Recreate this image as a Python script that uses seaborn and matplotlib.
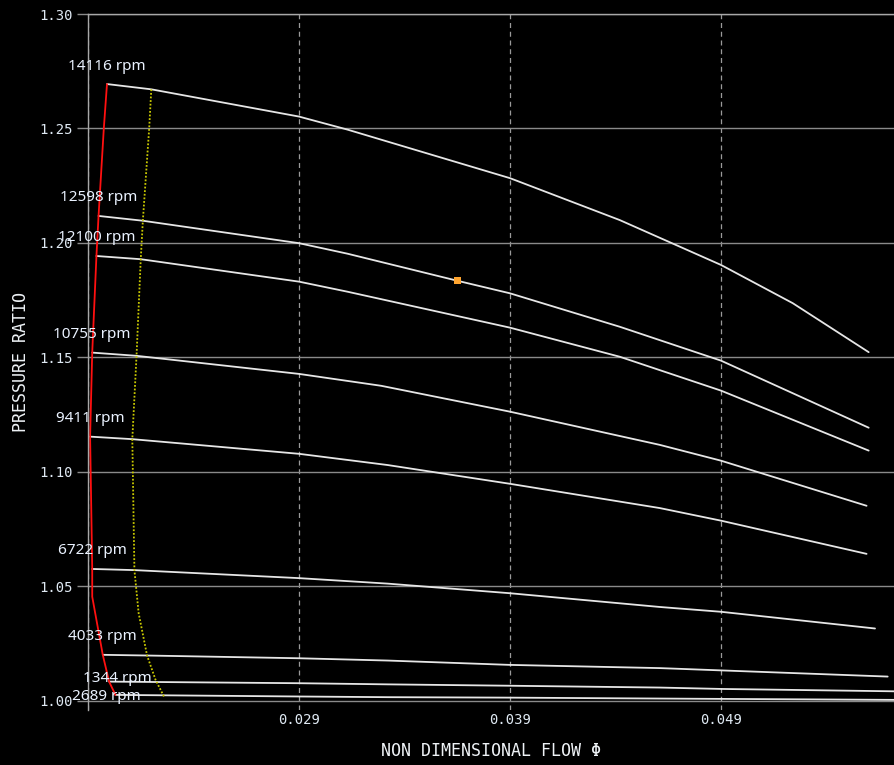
import matplotlib
matplotlib.use('Agg')
import pandas as pd
import matplotlib.pyplot as plt
import seaborn as sns

# speed lines as labelled on the map, top to bottom
speeds = [14116, 12598, 12100, 10755, 9411, 6722, 4033, 1344, 2689]

phi_14116 = [0.0199, 0.0220, 0.0290, 0.0313, 0.0390, 0.0442, 0.0490, 0.0524, 0.0560]
pr_14116 = [1.2694, 1.2671, 1.2552, 1.2495, 1.2283, 1.2100, 1.1904, 1.1737, 1.1523]
phi_12598 = [0.0195, 0.0216, 0.0290, 0.0313, 0.0365, 0.0390, 0.0442, 0.0490, 0.0560]
pr_12598 = [1.2118, 1.2097, 1.1999, 1.1953, 1.1835, 1.1780, 1.1634, 1.1486, 1.1193]
phi_12100 = [0.0194, 0.0215, 0.0290, 0.0313, 0.0390, 0.0442, 0.0490, 0.0560]
pr_12100 = [1.1943, 1.1929, 1.1831, 1.1787, 1.1630, 1.1503, 1.1355, 1.1093]
phi_10755 = [0.0192, 0.0213, 0.0290, 0.0329, 0.0390, 0.0461, 0.0490, 0.0559]
pr_10755 = [1.1521, 1.1507, 1.1428, 1.1376, 1.1263, 1.1118, 1.1049, 1.0852]
phi_9411 = [0.0191, 0.0211, 0.0290, 0.0332, 0.0390, 0.0461, 0.0490, 0.0559]
pr_9411 = [1.1154, 1.1143, 1.1079, 1.1030, 1.0948, 1.0842, 1.0787, 1.0642]
phi_6722 = [0.0192, 0.0212, 0.0290, 0.0332, 0.0390, 0.0461, 0.0490, 0.0563]
pr_6722 = [1.0576, 1.0571, 1.0536, 1.0512, 1.0470, 1.0410, 1.0389, 1.0316]
phi_4033 = [0.0197, 0.0218, 0.0290, 0.0332, 0.0390, 0.0461, 0.0490, 0.0569]
pr_4033 = [1.0201, 1.0198, 1.0186, 1.0176, 1.0157, 1.0143, 1.0133, 1.0106]
phi_1344 = [0.0200, 0.0290, 0.0332, 0.0390, 0.0461, 0.0490, 0.0577]
pr_1344 = [1.0084, 1.0077, 1.0072, 1.0066, 1.0058, 1.0052, 1.0041]
phi_2689 = [0.0203, 0.0290, 0.0332, 0.0390, 0.0461, 0.0577]
pr_2689 = [1.0026, 1.0019, 1.0016, 1.0014, 1.0010, 1.0004]

phi_lines = [phi_14116, phi_12598, phi_12100, phi_10755, phi_9411, phi_6722, phi_4033, phi_1344, phi_2689]
pr_lines = [pr_14116, pr_12598, pr_12100, pr_10755, pr_9411, pr_6722, pr_4033, pr_1344, pr_2689]

# surge line (red) and the dotted yellow line
surge_phi = [0.0199, 0.01975, 0.0195, 0.0194, 0.0192, 0.0191, 0.0192, 0.0192, 0.0197, 0.0200, 0.0203]
surge_pr = [1.2694, 1.2501, 1.2118, 1.1943, 1.1521, 1.1154, 1.0576, 1.0455, 1.0201, 1.0084, 1.0026]
margin_phi = [0.0220, 0.0219, 0.0216, 0.0215, 0.0213, 0.0211, 0.0212, 0.0214, 0.0218, 0.0222, 0.0226]
margin_pr = [1.2671, 1.2501, 1.2097, 1.1929, 1.1507, 1.1143, 1.0571, 1.0383, 1.0198, 1.0092, 1.0019]

# operating point
op_phi = [0.0365]
op_pr = [1.1835]

x_ticks = [0.019, 0.029, 0.039, 0.049]
x_ticklabels = ['', '0.029', '0.039', '0.049']
y_ticks = [1.00, 1.05, 1.10, 1.15, 1.20, 1.25, 1.30]


def main():
    sns.set_theme(style='dark')
    plt.rcParams['figure.facecolor'] = 'black'
    plt.rcParams['axes.facecolor'] = 'black'

    rows = []
    for spd, phi, pr in zip(speeds, phi_lines, pr_lines):
        for a, b in zip(phi, pr):
            rows.append({'speed': str(spd), 'phi': a, 'pr': b})
    df = pd.DataFrame(rows)

    fig = plt.figure(figsize=(8.94, 7.65), dpi=100)
    ax = fig.add_axes([88 / 894, 55 / 765, 1 - 88 / 894, 696 / 765])

    pal = {str(s): '#e6e6e6' for s in speeds}
    sns.lineplot(data=df, x='phi', y='pr', hue='speed', palette=pal, sort=False,
                 estimator=None, legend=False, lw=1.3, ax=ax)
    sns.lineplot(x=surge_phi, y=surge_pr, sort=False, estimator=None,
                 color='#ff1010', lw=1.3, ax=ax)
    sns.lineplot(x=margin_phi, y=margin_pr, sort=False, estimator=None,
                 color='#c8c800', lw=1.3, ls=(0, (1, 1)), ax=ax)
    sns.scatterplot(x=op_phi, y=op_pr, marker='s', s=28, color='#ffa530',
                    edgecolor='none', zorder=5, ax=ax)

    # speed labels sit just above the start of each line
    offsets = {1344: (8, 3), 2689: (-9, -2)}
    for spd, phi, pr in zip(speeds, phi_lines, pr_lines):
        dx, dy = offsets.get(spd, (0, 18))
        ax.annotate(f'{spd} rpm', xy=(phi[0], pr[0]), xytext=(dx * 0.72, dy * 0.72),
                    textcoords='offset points', ha='center', va='center',
                    color='#eaf2ff', fontsize=11, family='Noto Sans',
                    annotation_clip=False)

    ax.set_xlim(0.019, 0.0572)
    ax.set_ylim(0.996, 1.30)
    ax.set_xticks(x_ticks)
    ax.set_xticklabels(x_ticklabels)
    ax.set_yticks(y_ticks)
    ax.set_yticklabels([f'{v:.2f}' for v in y_ticks])

    ax.yaxis.grid(True, color='#8a8a8a', lw=1, ls='-')
    ax.xaxis.grid(True, color='#9a9a9a', lw=0.9, ls=(0, (4, 3)))
    ax.tick_params(axis='y', direction='out', length=8, width=1, color='#8a8a8a',
                   pad=3, labelsize=10, labelcolor='#dfe9f3', left=True)
    ax.tick_params(axis='x', length=0, pad=2, labelsize=10, labelcolor='#dfe9f3')
    for lab in ax.get_xticklabels() + ax.get_yticklabels():
        lab.set_family('DejaVu Sans Mono')

    for side in ['right', 'bottom']:
        ax.spines[side].set_visible(False)
    for side in ['left', 'top']:
        ax.spines[side].set_visible(True)
        ax.spines[side].set_color('#a8a8a8')
        ax.spines[side].set_linewidth(1)

    ax.set_xlabel('NON DIMENSIONAL FLOW Φ', color='#eef2f6', fontsize=12,
                  family='DejaVu Sans Mono', labelpad=11)
    ax.set_ylabel('PRESSURE RATIO', color='#eef2f6', fontsize=12,
                  family='DejaVu Sans Mono', labelpad=7)

    fig.savefig('out.png', dpi=100, facecolor='black')


if __name__ == '__main__':
    main()
